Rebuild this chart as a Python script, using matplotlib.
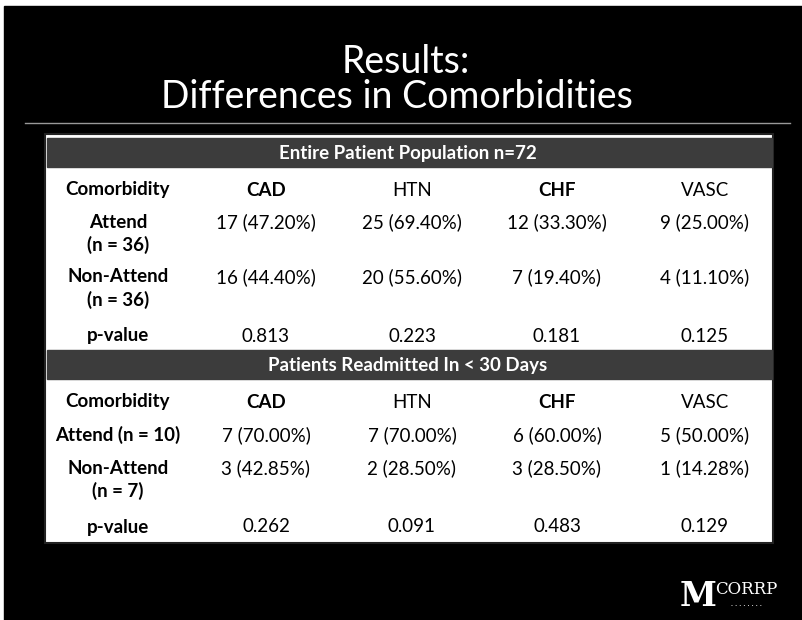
import matplotlib.pyplot as plt
from matplotlib.patches import Rectangle

plt.rcParams['font.family'] = ['Lato', 'DejaVu Sans']

title1 = 'Results:'
title2 = 'Differences in Comorbidities'

columns = ['Comorbidity', 'CAD', 'HTN', 'CHF', 'VASC']

sec1_title = 'Entire Patient Population n=72'
sec1_rows = ['Attend\n(n = 36)', 'Non-Attend\n(n = 36)', 'p-value']
sec1_cad = ['17 (47.20%)', '16 (44.40%)', '0.813']
sec1_htn = ['25 (69.40%)', '20 (55.60%)', '0.223']
sec1_chf = ['12 (33.30%)', '7 (19.40%)', '0.181']
sec1_vasc = ['9 (25.00%)', '4 (11.10%)', '0.125']

sec2_title = 'Patients Readmitted In < 30 Days'
sec2_rows = ['Attend (n = 10)', 'Non-Attend\n(n = 7)', 'p-value']
sec2_cad = ['7 (70.00%)', '3 (42.85%)', '0.262']
sec2_htn = ['7 (70.00%)', '2 (28.50%)', '0.091']
sec2_chf = ['6 (60.00%)', '3 (28.50%)', '0.483']
sec2_vasc = ['5 (50.00%)', '1 (14.28%)', '0.129']

fig = plt.figure(figsize=(8.03, 6.2), dpi=100)
ax = fig.add_axes([0, 0, 1, 1])
ax.set_xlim(0, 803)
ax.set_ylim(620, 0)
ax.axis('off')

# slide background
ax.add_patch(Rectangle((0, 0), 803, 620, color='white'))
ax.add_patch(Rectangle((4, 6), 799, 614, color='black'))

ax.text(406, 62, title1, color='white', fontsize=27, ha='center', va='center')
ax.text(397, 97, title2, color='white', fontsize=27, ha='center', va='center')
ax.plot([25, 790], [123, 123], color='#999999', lw=1)

# table box
ax.add_patch(Rectangle((45, 134), 728, 409, facecolor='white', edgecolor='#222222', lw=1.5))

col_x = [118, 266, 412, 557, 705]
head_bold = ['bold', 'bold', 'normal', 'bold', 'normal']
fs = 13.5


def section(top, title, rows, cad, htn, chf, vasc, head_y, row_y):
    ax.add_patch(Rectangle((47, top), 725, 29, color='#3c3c3c'))
    ax.text(408, top + 15, title, color='white', fontsize=13.5, fontweight='bold',
            ha='center', va='center')
    for x, c, w in zip(col_x, columns, head_bold):
        ax.text(x, head_y, c, fontsize=fs, fontweight=w, ha='center', va='center')
    for i, label in enumerate(rows):
        y = row_y[i]
        for k, line in enumerate(label.split('\n')):
            ax.text(col_x[0], y + 23 * k, line, fontsize=fs, fontweight='bold',
                    ha='center', va='center')
        for x, vals in zip(col_x[1:], [cad, htn, chf, vasc]):
            ax.text(x, y, vals[i], fontsize=fs, ha='center', va='center')


section(138, sec1_title, sec1_rows, sec1_cad, sec1_htn, sec1_chf, sec1_vasc,
        190, [222, 277, 336])
section(350, sec2_title, sec2_rows, sec2_cad, sec2_htn, sec2_chf, sec2_vasc,
        402, [435, 468, 527])

# logo
ax.text(698, 597, 'M', color='white', fontsize=24, fontweight='bold', family='DejaVu Serif',
        ha='center', va='center')
ax.text(746, 590, 'CORRP', color='white', fontsize=12, family='DejaVu Serif',
        ha='center', va='center')
ax.text(746, 604, '. . . . . . . .', color='white', fontsize=6, ha='center', va='center')

fig.savefig('out.png', dpi=100)
